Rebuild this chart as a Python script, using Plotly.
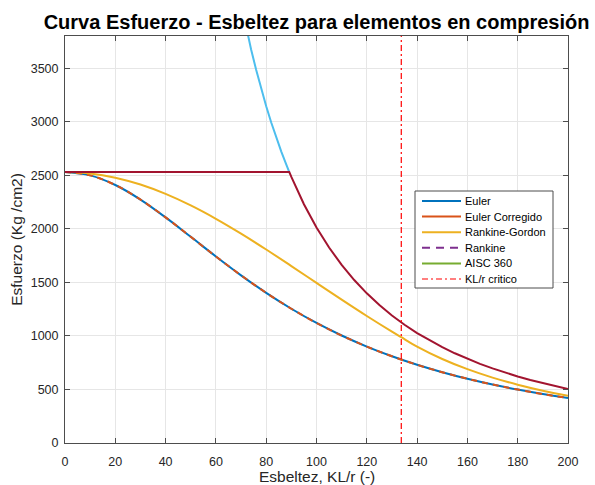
import plotly.graph_objects as go

# Slenderness values (KL/r)
lam_10 = [0, 10, 20, 30, 40, 50, 60, 70, 80, 90, 100, 110, 120, 130, 140, 150, 160, 170, 180, 190, 200]
# "Euler" / "Euler Corregido" curve (identical, drawn overlapping)
sig_euler_leg = [2530, 2498.6, 2408.9, 2272.8, 2106.3, 1924.9, 1741.7, 1565.5, 1401.9, 1253.5, 1120.8,
                 1003.4, 900.3, 809.7, 730.3, 660.8, 599.7, 546.0, 498.7, 456.8, 419.6]
sig_euler_corr = [2530, 2498.6, 2408.9, 2272.8, 2106.3, 1924.9, 1741.7, 1565.5, 1401.9, 1253.5, 1120.8,
                  1003.4, 900.3, 809.7, 730.3, 660.8, 599.7, 546.0, 498.7, 456.8, 419.6]

# Rankine-Gordon curve
lam_rg = [0, 10, 20, 30, 40, 50, 60, 70, 80, 90, 100, 110, 120, 130, 133.71, 140, 150, 160, 170, 180, 190, 200]
sig_rg = [2530, 2516.7, 2477.3, 2413.0, 2325.7, 2218.1, 2093.4, 1954.9, 1806.6, 1652.0, 1494.8, 1338.4,
          1185.8, 1039.7, 987.5, 900.4, 784.4, 689.4, 610.7, 544.7, 488.8, 441.2]

# Pure elastic curve above the yield plateau (light blue)
lam_el = [70, 72, 74, 76, 78, 80, 82, 84, 86, 88, 89.18]
sig_el = [4106.7, 3881.8, 3674.8, 3483.9, 3307.5, 3144.2, 2992.7, 2851.9, 2720.8, 2598.5, 2530]

# Limited curve (dark red): plateau at Fy then elastic
lam_lim = [0, 89.18, 90, 95, 100, 105, 110, 115, 120, 125, 130, 135, 140, 145, 150, 155, 160, 165, 170,
           175, 180, 185, 190, 195, 200]
sig_lim = [2530, 2530, 2484.3, 2229.7, 2012.3, 1825.2, 1663.0, 1521.6, 1397.4, 1287.9, 1190.7, 1104.1,
           1026.7, 957.1, 894.4, 837.6, 786.1, 739.1, 696.3, 657.1, 621.1, 588.0, 557.4, 529.2, 503.1]

# Critical slenderness line
lam_crit = [133.71, 133.71]
sig_crit = [0, 3800]

x_ticks = [0, 20, 40, 60, 80, 100, 120, 140, 160, 180, 200]
y_ticks = [0, 500, 1000, 1500, 2000, 2500, 3000, 3500]

legend_labels = ["Euler", "Euler Corregido", "Rankine-Gordon", "Rankine", "AISC 360", "KL/r critico"]

BLUE = "#0072BD"
ORANGE = "#D95319"
YELLOW = "#EDB120"
PURPLE = "#7E2F8E"
GREEN = "#77AC30"
LBLUE = "#4DBEEE"
DRED = "#A2142F"
RED = "#FF0000"

fig = go.Figure()
fig.add_trace(go.Scatter(x=lam_10, y=sig_euler_leg, mode="lines", name="Euler", showlegend=False,
                         line=dict(color=BLUE, width=2, shape="spline")))
fig.add_trace(go.Scatter(x=lam_10, y=sig_euler_corr, mode="lines", name="Euler Corregido", showlegend=False,
                         line=dict(color=ORANGE, width=2, shape="spline", dash="6px,5px")))
fig.add_trace(go.Scatter(x=lam_rg, y=sig_rg, mode="lines", name="Rankine-Gordon", showlegend=False,
                         line=dict(color=YELLOW, width=2, shape="spline")))
fig.add_trace(go.Scatter(x=lam_el, y=sig_el, mode="lines", showlegend=False,
                         line=dict(color=LBLUE, width=2)))
fig.add_trace(go.Scatter(x=lam_lim, y=sig_lim, mode="lines", showlegend=False,
                         line=dict(color=DRED, width=2)))
fig.add_trace(go.Scatter(x=lam_crit, y=sig_crit, mode="lines", name="KL/r critico", showlegend=False,
                         line=dict(color=RED, width=1.2, dash="6px,3px,2px,3px")))

# Legend drawn as a box with line samples (MATLAB-like compact legend)
L, T = 65, 36
PW, PH = 503, 407


def px_x(p):
    return (p - L) / PW


def px_y(p):
    return (T + PH - p) / PH


shapes = [dict(type="rect", xref="paper", yref="paper",
               x0=px_x(415), x1=px_x(553), y0=px_y(288), y1=px_y(191),
               line=dict(color="#4d4d4d", width=1), fillcolor="white", layer="above")]
annotations = []
leg_styles = [
    dict(color=BLUE, width=2),
    dict(color=ORANGE, width=2),
    dict(color=YELLOW, width=2),
    dict(color=PURPLE, width=2, dash="8px,6px"),
    dict(color=GREEN, width=2),
    dict(color=RED, width=1.2, dash="6px,3px,2px,3px"),
]
for i, (lab, st) in enumerate(zip(legend_labels, leg_styles)):
    yc = 201 + i * 15.6
    shapes.append(dict(type="line", xref="paper", yref="paper",
                       x0=px_x(422), x1=px_x(461), y0=px_y(yc), y1=px_y(yc),
                       line=st, layer="above"))
    annotations.append(dict(text=lab, xref="paper", yref="paper", x=px_x(463), y=px_y(yc),
                            xanchor="left", yanchor="middle", showarrow=False,
                            font=dict(family="Liberation Sans", size=11, color="black")))

# x-axis title placed just below the tick labels
annotations.append(dict(text="Esbeltez, KL/r (-)", xref="paper", yref="paper", x=0.5, y=px_y(476),
                        xanchor="center", yanchor="middle", showarrow=False,
                        font=dict(family="Liberation Sans", size=15.5, color="#262626")))

axis_common = dict(
    showline=True, linecolor="#4d4d4d", linewidth=1, mirror="ticks",
    ticks="inside", ticklen=5, tickcolor="#4d4d4d",
    showgrid=True, gridcolor="#e6e6e6", gridwidth=1, zeroline=False,
    automargin=False,
    tickfont=dict(family="Liberation Sans", size=12.5, color="#262626"),
)

fig.update_layout(
    width=595, height=485,
    margin=dict(l=L, r=595 - L - PW, t=T, b=485 - T - PH),
    paper_bgcolor="white", plot_bgcolor="white",
    title=dict(text="<b>Curva Esfuerzo - Esbeltez para elementos en compresión</b>",
               x=0.532, xanchor="center", y=0.955, yanchor="middle",
               font=dict(family="Liberation Sans", size=20, color="black")),
    xaxis=dict(range=[0, 200], tickvals=x_ticks, ticklabelstandoff=7, **axis_common),
    yaxis=dict(range=[0, 3800], tickvals=y_ticks, ticklabelstandoff=3,
               title=dict(text="Esfuerzo (Kg /cm2)", standoff=4,
                          font=dict(family="Liberation Sans", size=15.5, color="#262626")),
               **axis_common),
    shapes=shapes,
    annotations=annotations,
    showlegend=False,
)

fig.write_html("out.html")
